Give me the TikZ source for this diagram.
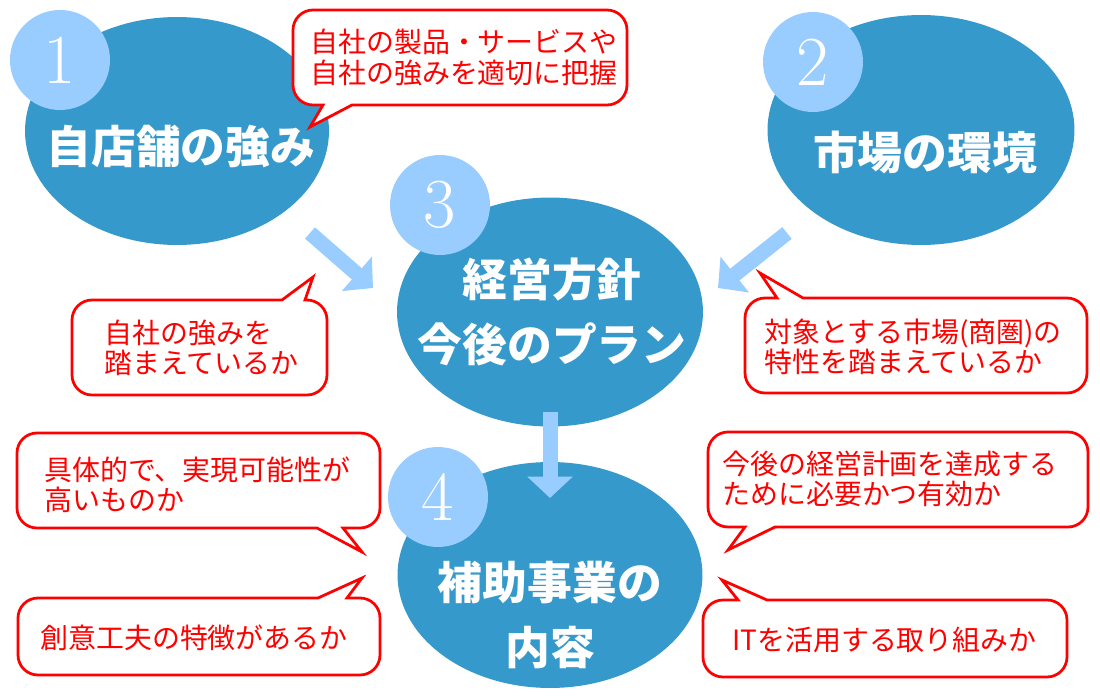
\documentclass[tikz,border=0pt]{standalone}
\usepackage{fontspec}
\newfontfamily\jp{Noto Sans CJK JP}
\usetikzlibrary{arrows.meta,shapes.geometric}
\definecolor{ell}{HTML}{3699CB}
\definecolor{lb}{HTML}{99CCFF}
\definecolor{rd}{HTML}{FF0000}
\tikzset{
  bigell/.style={ellipse, fill=ell, draw=none, inner sep=0pt},
  numc/.style={circle, fill=lb, draw=none, inner sep=0pt, minimum size=2cm, text=white, font=\fontsize{40}{40}\selectfont},
  wtext/.style={text=white, font=\jp\bfseries\fontsize{25.5}{37}\selectfont, align=center, inner sep=0pt},
  rtext/.style={text=rd, font=\jp\fontsize{15.9}{17.2}\selectfont, align=left, inner sep=0pt, anchor=west},
  callout/.style={fill=white, draw=rd, line width=0.055cm, line join=miter},
  blkarrow/.style={draw=lb, line width=0.3cm, -{Triangle[width=0.89cm,length=0.43cm]}},
}
% bottom pointer: x1 y1 x2 y2 b1x tipx tipy b2x
\newcommand\cobot[8]{\filldraw[callout] ({(#1+#3)/2},#2) [rounded corners=0.4cm] -- (#3,#2) -- (#3,#4) [sharp corners] -- (#8,#4) -- (#6,#7) -- (#5,#4) [rounded corners=0.4cm] -- (#1,#4) -- (#1,#2) -- cycle;}
% top pointer: x1 y1 x2 y2 b1x tipx tipy b2x
\newcommand\cotop[8]{\filldraw[callout] ({(#1+#3)/2},#4) [rounded corners=0.4cm] -- (#1,#4) -- (#1,#2) [sharp corners] -- (#5,#2) -- (#6,#7) -- (#8,#2) [rounded corners=0.4cm] -- (#3,#2) -- (#3,#4) -- cycle;}
\begin{document}
\begin{tikzpicture}[x=0.02cm,y=-0.02cm]
\useasboundingbox (0,0) rectangle (1100,700);
% ellipses
\node[bigell, minimum width=6.08cm, minimum height=4.56cm] (e1) at (177,131) {};
\node[bigell, minimum width=6.14cm, minimum height=4.6cm] (e2) at (921,130) {};
\node[bigell, minimum width=6.12cm, minimum height=4.58cm] (e3) at (550,312) {};
\node[bigell, minimum width=6.1cm, minimum height=4.52cm] (e4) at (550,575) {};
% number circles
\node[numc] (n1) at (60,60) {1};
\node[numc] (n2) at (813,62) {2};
\node[numc] (n3) at (440,205) {3};
\node[numc] (n4) at (438,497) {4};
% ellipse texts
\node[wtext] (t1) at (181,147) {自店舗の強み};
\node[wtext] (t2) at (925,152) {市場の環境};
\node[wtext] (t3) at (552,312) {経営方針\\今後のプラン};
\node[wtext] (t4) at (550,615) {補助事業の\\内容};
% arrows
\coordinate (a1s) at (310,233);
\coordinate (a1t) at (373,288);
\coordinate (a2s) at (787,233);
\coordinate (a2t) at (718,288);
\coordinate (a3s) at (550,412);
\coordinate (a3t) at (550,498);
\draw[blkarrow] (a1s) -- (a1t);
\draw[blkarrow] (a2s) -- (a2t);
\draw[blkarrow] (a3s) -- (a3t);
% callouts
\cobot{293}{10}{627}{105}{323}{310}{127}{352}
\cotop{72}{300}{327}{395}{282}{313}{277}{305}
\cotop{745}{298}{1087}{393}{777}{760}{273}{803}
\cobot{17}{433}{380}{528}{317}{362}{552}{343}
\cotop{18}{598}{380}{675}{318}{362}{578}{347}
\cobot{708}{432}{1088}{527}{745}{728}{550}{775}
\cotop{703}{600}{1067}{677}{738}{722}{580}{767}
\node[rtext] (cA) at (310,57.5) {自社の製品・サービスや\\自社の強みを適切に把握};
\node[rtext] (cB) at (104,347.5) {自社の強みを\\踏まえているか};
\node[rtext] (cC) at (764,347) {対象とする市場(商圏)の\\特性を踏まえているか};
\node[rtext] (cD) at (44,485) {具体的で、実現可能性が\\高いものか};
\node[rtext] (cE) at (40,638) {創意工夫の特徴があるか};
\node[rtext] (cF) at (722,479) {今後の経営計画を達成する\\ために必要かつ有効か};
\node[rtext] (cG) at (732,640) {ITを活用する取り組みか};
\end{tikzpicture}
\end{document}
